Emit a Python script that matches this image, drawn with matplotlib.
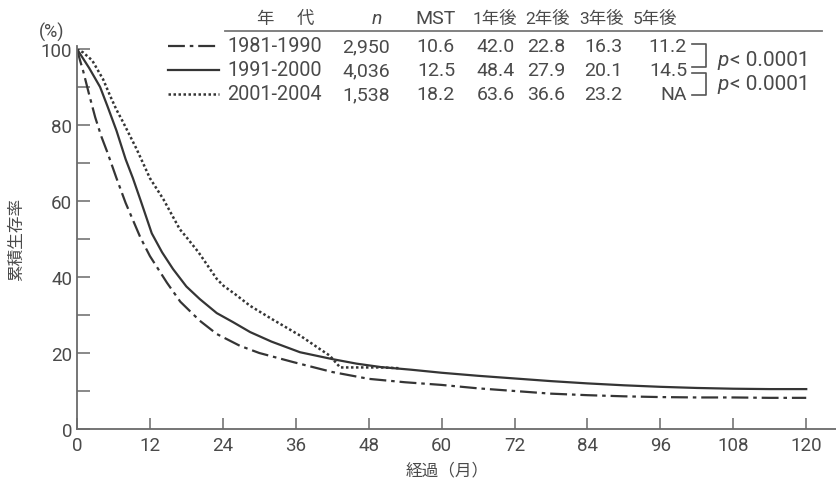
import matplotlib
matplotlib.use("Agg")
import matplotlib.pyplot as plt
from matplotlib.lines import Line2D

# ---------------- data ----------------
periods = ["1981-1990", "1991-2000", "2001-2004"]
n_values = ["2,950", "4,036", "1,538"]
mst_values = ["10.6", "12.5", "18.2"]
y1_values = ["42.0", "48.4", "63.6"]
y2_values = ["22.8", "27.9", "36.6"]
y3_values = ["16.3", "20.1", "23.2"]
y5_values = ["11.2", "14.5", "NA"]
header = ["年", "代", "n", "MST", "1年後", "2年後", "3年後", "5年後"]
p_labels = ["< 0.0001", "< 0.0001"]

m_1981 = [0, 0.5, 1, 2, 3, 4, 5, 6.5, 8, 10.4, 12, 14.8, 17, 20.2, 23, 26.8, 30,
          35.6, 42, 48, 54, 60, 66, 72, 78, 84, 90, 96, 102, 108, 114, 120]
s_1981 = [100, 97, 94.3, 88, 82, 77, 72.8, 66, 59.5, 50.5, 45.5, 38.5, 33.5, 28.5,
          25, 21.9, 20, 17.6, 15, 13.2, 12.3, 11.6, 10.7, 10.0, 9.3, 8.9, 8.6, 8.4,
          8.3, 8.3, 8.2, 8.2]

m_1991 = [0, 1, 2, 3.8, 5, 6.5, 8, 9.2, 10.5, 12.3, 14, 15.8, 18, 20.2, 23, 25.7,
          28.5, 32, 36.7, 42, 46, 50, 55, 60, 66, 72, 78, 84, 90, 96, 102, 108, 114, 120]
s_1991 = [100, 97.5, 95, 90, 85, 78.5, 71, 66, 60, 51.5, 46.5, 42.1, 37.5, 34.2,
          30.5, 28.1, 25.5, 23, 20.2, 18.4, 17.2, 16.3, 15.6, 14.8, 14, 13.3, 12.6,
          12, 11.5, 11.1, 10.8, 10.6, 10.5, 10.5]

m_2001 = [0, 1, 2.5, 4.3, 5.5, 6.5, 7.6, 9.8, 12, 14.2, 16.9, 18, 20, 23, 24.1, 26,
          28.5, 32, 36.7, 40, 41.6, 43.3, 46, 50, 53]
s_2001 = [100, 99.1, 97, 92, 87.5, 84, 80.7, 73.7, 66, 60.5, 52.6, 50.5, 46.5, 39.5,
          37.7, 35.5, 32.4, 29, 24.6, 21, 19.3, 16.2, 16.2, 16.2, 16.0]

x_ticks = [0, 12, 24, 36, 48, 60, 72, 84, 96, 108, 120]
y_ticks = [0, 20, 40, 60, 80, 100]
y_minor = [10, 30, 50, 70, 90]

# ---------------- figure ----------------
W, H = 836, 481
fig = plt.figure(figsize=(W / 100, H / 100), dpi=100)
FAM = ["Roboto", "Noto Sans CJK JP"]
TXT = "#4a4a4a"
LINE = "#353535"
AXC = "#6a6a6a"

def fx(px):
    return px / W

def fy(py):
    return 1 - py / H

ax = fig.add_axes([fx(77), fy(430), fx(836) - fx(77), fy(50) - fy(430)])
ax.set_xlim(0, 124.9)
ax.set_ylim(0, 100)

DD = dict(lw=1.6, dashes=(7.6, 2.2, 1.6, 2.2))
SL = dict(lw=1.6)
DT = dict(lw=1.8, dashes=(1.0, 1.0))
ax.plot(m_1981, s_1981, color=LINE, **DD)
ax.plot(m_1991, s_1991, color=LINE, **SL)
ax.plot(m_2001, s_2001, color=LINE, **DT)

for s in ["top", "right"]:
    ax.spines[s].set_visible(False)
for s in ["left", "bottom"]:
    ax.spines[s].set_color(AXC)
    ax.spines[s].set_linewidth(1.3)
ax.spines["left"].set_bounds(0, 100.8)

ax.set_xticks(x_ticks)
ax.set_yticks(y_ticks)
ax.set_yticks(y_minor, minor=True)
ax.tick_params(axis="x", direction="in", length=8, width=1.1, color=AXC,
               labelsize=13.5, labelcolor=TXT, pad=5)
ax.tick_params(axis="y", which="both", direction="in", length=9, width=1.1, color=AXC,
               labelsize=13.5, labelcolor=TXT, pad=3.5)
for lab in ax.get_xticklabels() + ax.get_yticklabels():
    lab.set_family(FAM)

fig.text(fx(447), fy(470), "経過（月）", ha="center", va="center", family=FAM,
         fontsize=12, color=TXT)
fig.text(fx(16), fy(239), "累積生存率", ha="center", va="center", rotation=90,
         family=FAM, fontsize=12, color=TXT)
fig.text(fx(52), fy(32), "(%)", ha="center", va="center", family=FAM, fontsize=13,
         color=TXT)

# ---------------- table / legend ----------------
row_y = [47, 71, 95]
head_y = 19
fs = 14
head_x = [265, 305, 377, 436, 495, 548, 601, 655]
for i, h in enumerate(header):
    fig.text(fx(head_x[i]), fy(head_y), h, ha="center", va="center", family=FAM,
             fontsize=12.5 if i > 3 or i < 2 else fs, color=TXT,
             style="italic" if h == "n" else "normal")
fig.add_artist(Line2D([fx(225), fx(822)], [fy(32), fy(32)], color="#777777", lw=1.3))

styles = [DD, SL, DT]
cols = [n_values, mst_values, y1_values, y2_values, y3_values, y5_values]
val_right = [390, 455, 515, 565, 622, 687]
for r in range(3):
    yy = row_y[r]
    fig.add_artist(Line2D([fx(168), fx(219)], [fy(yy), fy(yy)], color=LINE,
                          **styles[r]))
    fig.text(fx(227), fy(yy), periods[r], ha="left", va="center", family=FAM,
             fontsize=14.3, color=TXT)
    for c, vals in enumerate(cols):
        fig.text(fx(val_right[c]), fy(yy), vals[r], ha="right", va="center",
                 family=FAM, fontsize=fs, color=TXT)

# brackets
bx0, bx1 = 692, 706
segs = [
    ([bx0, bx1, bx1, bx0], [row_y[0] - 2, row_y[0] - 2, row_y[1] - 3, row_y[1] - 3]),
    ([bx0, bx1, bx1, bx0], [row_y[1] + 3, row_y[1] + 3, row_y[2] + 1, row_y[2] + 1]),
]
for xs, ys in segs:
    fig.add_artist(Line2D([fx(v) for v in xs], [fy(v) for v in ys], color="#555555", lw=1.2))
p_y = [60, 84]
for k in range(2):
    fig.text(fx(717), fy(p_y[k]), "p", ha="left", va="center", family=FAM,
             fontsize=15, color=TXT, style="italic")
    fig.text(fx(730), fy(p_y[k]), p_labels[k], ha="left", va="center", family=FAM,
             fontsize=15, color=TXT)

fig.savefig("out.png", dpi=100)
